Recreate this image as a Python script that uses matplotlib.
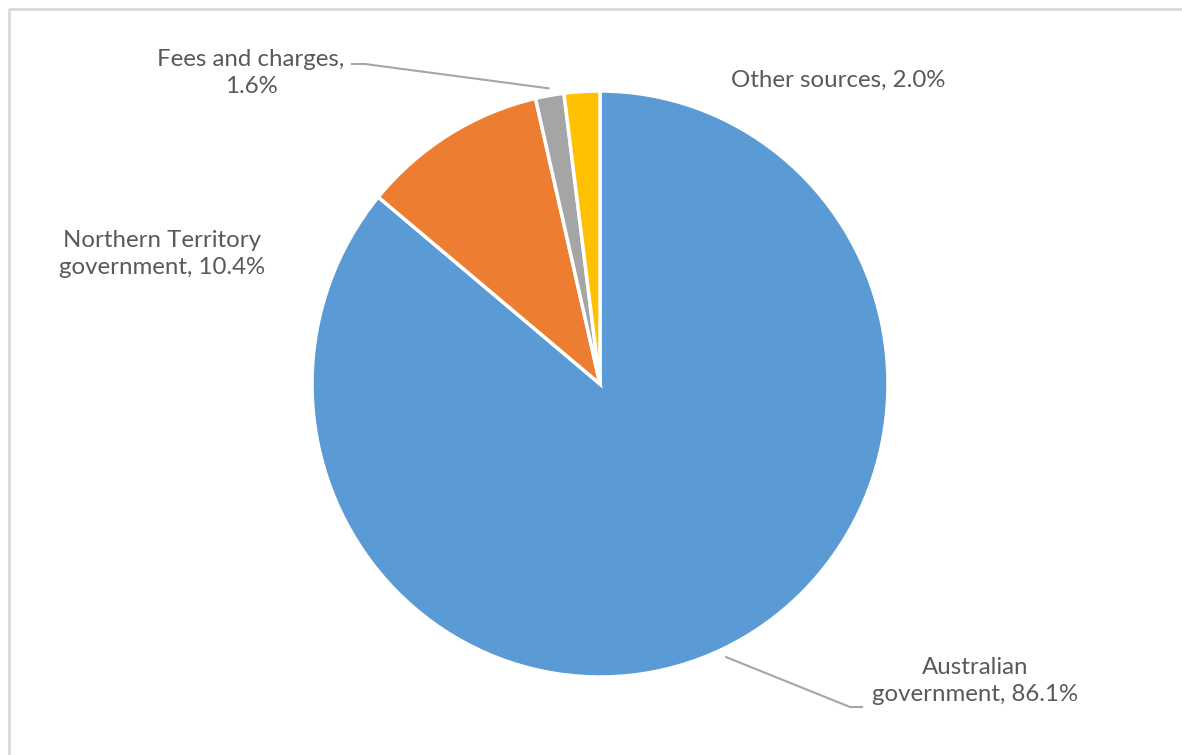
# grafico de pizza das fontes de receita (4 fatias, rotulos fora da pizza)
import numpy as np
import matplotlib.pyplot as plt
from matplotlib.lines import Line2D

fontes = ["Australian\ngovernment", "Northern Territory\ngovernment", "Fees and charges,\n", "Other sources"]
percentuais = [86.1, 10.4, 1.6, 2.0]
cores = ["#5b9bd5", "#ed7d31", "#a5a5a5", "#ffc000"]

plt.rcParams["font.family"] = ["Lato", "DejaVu Sans"]

W, H = 1182, 755
fig = plt.figure(figsize=(W / 100, H / 100), dpi=100)

# moldura cinza clara (so topo e esquerda aparecem no recorte)
fig.lines.append(Line2D([9.5 / W, 9.5 / W, 1.01], [-0.01, 1 - 8.5 / H, 1 - 8.5 / H],
                        transform=fig.transFigure, color="#d9d9d9", linewidth=2))

# pizza com centro em (600, 384) px, raio ~288 px na horizontal e ~293 na vertical
RX, RY, CX, CY = 288, 293, 600, 384
ax = fig.add_axes([(CX - RX) / W, (H - CY - RY) / H, 2 * RX / W, 2 * RY / H])
fatias, _ = ax.pie(percentuais, colors=cores, startangle=90, counterclock=False, radius=1,
                   wedgeprops=dict(edgecolor="white", linewidth=2.5))
ax.set_xlim(-1, 1)
ax.set_ylim(-1, 1)
ax.set_aspect("auto")
ax.axis("off")

cor_txt = "#595959"
cor_linha = "#a6a6a6"
fs = 17.3
ls = 1.3


def px(x, y):
    # pixel -> coordenadas de dados do eixo da pizza
    return (x - CX) / RX, (CY - y) / RY


def ponto_fatia(i, r):
    f = fatias[i]
    ang = np.deg2rad((f.theta1 + f.theta2) / 2)
    return r * np.cos(ang), r * np.sin(ang)


def rotulo(i):
    return f"{percentuais[i]:.1f}%"


# Australian government
x, y = px(975, 681)
ax.text(x, y, f"Australian\ngovernment, {rotulo(0)}", ha="center", va="center",
        fontsize=fs, color=cor_txt, linespacing=ls, clip_on=False)
p0 = ponto_fatia(0, 1.03)
p1 = px(850, 707)
p2 = px(862, 707)
ax.plot([p0[0], p1[0], p2[0]], [p0[1], p1[1], p2[1]], color=cor_linha, linewidth=1.5, clip_on=False)

# Northern Territory government
x, y = px(162, 254)
ax.text(x, y, f"Northern Territory\ngovernment, {rotulo(1)}", ha="center", va="center",
        fontsize=fs, color=cor_txt, linespacing=ls, clip_on=False)

# Fees and charges
x, y = px(251, 73)
ax.text(x, y, f"Fees and charges,\n{rotulo(2)}", ha="center", va="center",
        fontsize=fs, color=cor_txt, linespacing=ls, clip_on=False)
p0 = ponto_fatia(2, 1.025)
p1 = px(365, 64)
p2 = px(352, 64)
ax.plot([p0[0], p1[0], p2[0]], [p0[1], p1[1], p2[1]], color=cor_linha, linewidth=1.5, clip_on=False)

# Other sources
x, y = px(838, 80)
ax.text(x, y, f"Other sources, {rotulo(3)}", ha="center", va="center",
        fontsize=fs, color=cor_txt, clip_on=False)

fig.savefig("out.png", dpi=100, facecolor="white")
